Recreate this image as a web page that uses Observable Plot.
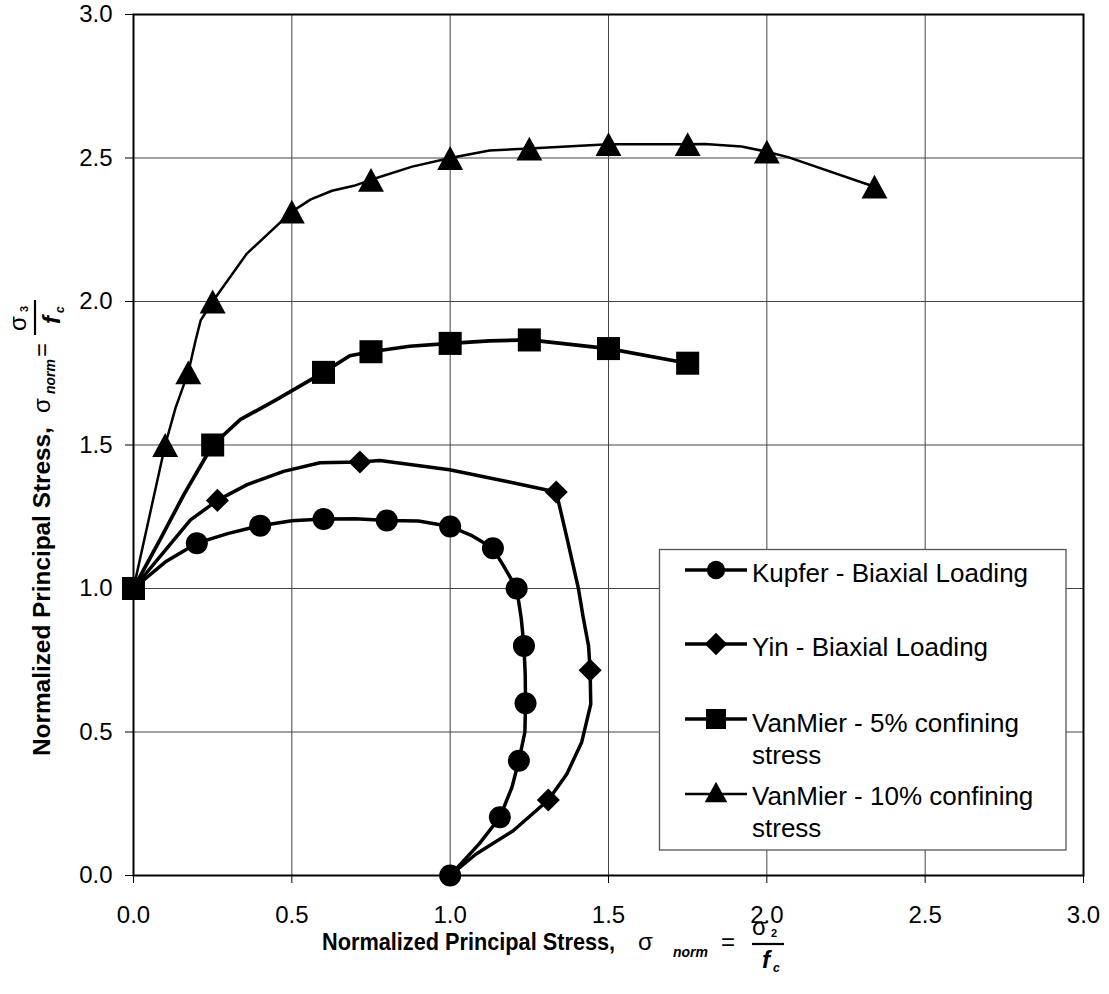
<!DOCTYPE html>
<html><head><meta charset="utf-8">
<script src="https://cdn.jsdelivr.net/npm/d3@7"></script>
<script src="https://cdn.jsdelivr.net/npm/@observablehq/plot@0.6"></script>
<style>
html,body{margin:0;padding:0;background:#fff;}
#chart{position:relative;width:1109px;height:994px;}
</style></head><body><div id="chart"></div>
<script>
// ---------- data ----------
const seriesNames = ["Kupfer - Biaxial Loading", "Yin - Biaxial Loading", "VanMier - 5% confining stress", "VanMier - 10% confining stress"];
const legendLines = [["Kupfer - Biaxial Loading"], ["Yin - Biaxial Loading"], ["VanMier - 5% confining", "stress"], ["VanMier - 10% confining", "stress"]];
const axisTicks = [0, 0.5, 1, 1.5, 2, 2.5, 3];
const gridTicks = [0.5, 1, 1.5, 2, 2.5];

// marker points
const kupferX = [0.2, 0.4, 0.6, 0.8, 1.0, 1.135, 1.21, 1.233, 1.238, 1.217, 1.157, 1.0];
const kupferY = [1.158, 1.219, 1.242, 1.237, 1.216, 1.14, 1.0, 0.8, 0.6, 0.4, 0.203, 0.0];
const yinX = [0.265, 0.715, 1.335, 1.442, 1.31];
const yinY = [1.307, 1.441, 1.336, 0.715, 0.263];
const vm5X = [0, 0.25, 0.6, 0.75, 1.0, 1.25, 1.5, 1.75];
const vm5Y = [1.0, 1.5, 1.753, 1.825, 1.854, 1.866, 1.836, 1.785];
const vm10X = [0.1, 0.173, 0.25, 0.5, 0.75, 1.0, 1.25, 1.5, 1.75, 2.0, 2.34];
const vm10Y = [1.5, 1.753, 2.0, 2.313, 2.424, 2.5, 2.533, 2.548, 2.548, 2.522, 2.4];

// curve vertices (as traced on the figure)
const kupferLineX = [0, 0.1, 0.2, 0.3, 0.4, 0.5, 0.6, 0.7, 0.8, 0.9, 1.0, 1.065, 1.135, 1.17, 1.21, 1.224, 1.233, 1.237, 1.238, 1.236, 1.217, 1.195, 1.157, 1.093, 1.0];
const kupferLineY = [1.0, 1.092, 1.158, 1.192, 1.219, 1.236, 1.242, 1.243, 1.237, 1.235, 1.216, 1.186, 1.14, 1.076, 1.0, 0.9, 0.8, 0.7, 0.6, 0.5, 0.4, 0.307, 0.203, 0.112, 0.0];
const yinLineX = [0, 0.096, 0.18, 0.265, 0.359, 0.474, 0.589, 0.715, 0.778, 0.998, 1.187, 1.335, 1.37, 1.405, 1.42, 1.437, 1.442, 1.444, 1.415, 1.368, 1.31, 1.199, 1.082, 1.0];
const yinLineY = [1.0, 1.128, 1.239, 1.307, 1.362, 1.408, 1.438, 1.441, 1.446, 1.414, 1.371, 1.336, 1.17, 1.0, 0.9, 0.8, 0.715, 0.597, 0.463, 0.353, 0.263, 0.156, 0.075, 0.0];
const vm5LineX = [0, 0.086, 0.159, 0.25, 0.338, 0.453, 0.6, 0.683, 0.75, 0.872, 1.0, 1.124, 1.25, 1.5, 1.75];
const vm5LineY = [1.0, 1.175, 1.327, 1.5, 1.589, 1.659, 1.753, 1.811, 1.825, 1.844, 1.854, 1.863, 1.866, 1.836, 1.785];
const vm10LineX = [0, 0.1, 0.133, 0.173, 0.196, 0.212, 0.25, 0.358, 0.5, 0.56, 0.627, 0.696, 0.75, 0.88, 1.0, 1.124, 1.25, 1.5, 1.75, 1.804, 1.92, 2.0, 2.067, 2.34];
const vm10LineY = [1.0, 1.5, 1.63, 1.753, 1.864, 1.934, 2.0, 2.167, 2.313, 2.356, 2.386, 2.403, 2.424, 2.47, 2.5, 2.526, 2.533, 2.548, 2.548, 2.549, 2.54, 2.522, 2.503, 2.4];

// ---------- helpers ----------
const rows = (xs, ys) => xs.map((x, i) => ({x, y: ys[i]}));
const fmt = d3.format(".1f");
const FONT = "'Liberation Sans', Arial, Helvetica, sans-serif";
// triangle centred on its bounding box
const triSymbol = {
  draw(ctx, size) {
    const r = Math.sqrt(size / Math.PI);
    const w = 1.2 * r, h = 1.1 * r;
    ctx.moveTo(0, -h); ctx.lineTo(w, h); ctx.lineTo(-w, h); ctx.closePath();
  }
};

const lineSpecs = [
  {xs: kupferLineX, ys: kupferLineY, sw: 3.5},
  {xs: yinLineX, ys: yinLineY, sw: 3.5},
  {xs: vm5LineX, ys: vm5LineY, sw: 3.7},
  {xs: vm10LineX, ys: vm10LineY, sw: 2.5}
];
// draw order: triangles, diamonds, circles, squares
const dotSpecs = [
  {xs: vm10X, ys: vm10Y, symbol: triSymbol, r: 10.8},
  {xs: yinX, ys: yinY, symbol: "diamond2", r: 10.4},
  {xs: kupferX, ys: kupferY, symbol: "circle", r: 11},
  {xs: vm5X, ys: vm5Y, symbol: "square", r: 13}
];

const svg = Plot.plot({
  width: 1109,
  height: 994,
  marginLeft: 133,
  marginRight: 26,
  marginTop: 14,
  marginBottom: 119,
  style: {fontFamily: FONT, fontSize: "24px", background: "#fff", color: "#000", overflow: "visible"},
  x: {domain: [0, 3]},
  y: {domain: [0, 3]},
  marks: [
    Plot.gridX({ticks: gridTicks, stroke: "#444", strokeOpacity: 1, strokeWidth: 1}),
    Plot.gridY({ticks: gridTicks, stroke: "#444", strokeOpacity: 1, strokeWidth: 1}),
    Plot.axisX({ticks: axisTicks, tickSize: 8, tickPadding: 22, tickFormat: fmt, label: null, fontSize: 24, stroke: "#000"}),
    Plot.axisY({ticks: axisTicks, tickSize: 8, tickPadding: 13, tickFormat: fmt, label: null, fontSize: 24, stroke: "#000"}),
    Plot.frame({stroke: "#000", strokeWidth: 2}),
    ...lineSpecs.map(s => Plot.line(rows(s.xs, s.ys), {x: "x", y: "y", stroke: "#000", strokeWidth: s.sw, curve: "linear", strokeLinejoin: "round"})),
    ...dotSpecs.map(s => Plot.dot(rows(s.xs, s.ys), {x: "x", y: "y", symbol: s.symbol, r: s.r, fill: "#000", stroke: "none"}))
  ]
});
document.getElementById("chart").appendChild(svg);

const root = d3.select(svg);

// ---------- legend ----------
const lg = root.append("g").attr("font-family", FONT).attr("font-size", 26).attr("text-anchor", "start");
lg.append("rect").attr("x", 659.5).attr("y", 549.5).attr("width", 406.5).attr("height", 300.5)
  .attr("fill", "#fff").attr("stroke", "#555").attr("stroke-width", 1.3);
const legSymbols = [
  {type: d3.symbolCircle, size: Math.PI * 9.2 * 9.2},
  {type: d3.symbolDiamond2, size: Math.pow(11.2 / 0.62625, 2)},
  {type: d3.symbolSquare, size: 20 * 20},
  {type: triSymbol, size: Math.PI * 9.4 * 9.4}
];
const legSampleY = [570, 644, 719, 794];
const legTextY = [582, 656, 732, 805];
const legLineW = [3.5, 3.5, 3.7, 2.3];
legendLines.forEach((lines, i) => {
  lg.append("line").attr("x1", 685).attr("x2", 747).attr("y1", legSampleY[i]).attr("y2", legSampleY[i])
    .attr("stroke", "#000").attr("stroke-width", legLineW[i]);
  lg.append("path").attr("transform", `translate(716,${legSampleY[i] - (i === 3 ? 2 : 0)})`)
    .attr("d", d3.symbol(legSymbols[i].type, legSymbols[i].size)()).attr("fill", "#000");
  const t = lg.append("text").attr("x", 752).attr("y", legTextY[i]).attr("fill", "#000");
  lines.forEach((ln, j) => t.append("tspan").attr("x", 752).attr("dy", j === 0 ? 0 : 31.5).text(ln));
});

// ---------- axis titles ----------
function mathTitle(g, p) {
  g.attr("font-family", FONT).attr("fill", "#000").attr("text-anchor", "start");
  g.append("text").attr("x", 0).attr("y", 0).attr("font-weight", "bold").attr("font-size", 24)
    .attr("transform", `scale(${p.sx},1)`).text("Normalized Principal Stress,");
  g.append("text").attr("x", p.sig).attr("y", 0).attr("font-size", 24).text("σ");
  g.append("text").attr("x", p.norm).attr("y", p.normV).attr("font-size", 14).attr("font-style", "italic").attr("font-weight", "bold").text("norm");
  g.append("text").attr("x", p.eq).attr("y", 0).attr("font-size", 24).text("=");
  g.append("text").attr("x", p.num).attr("y", p.numV).attr("font-size", 24).text("σ");
  g.append("text").attr("x", p.num + 19).attr("y", p.numV + 2).attr("font-size", 11).attr("font-weight", "bold").text(p.sub);
  g.append("line").attr("x1", p.bar0).attr("x2", p.bar1).attr("y1", p.barV).attr("y2", p.barV).attr("stroke", "#000").attr("stroke-width", 2.2);
  g.append("text").attr("x", p.den).attr("y", p.denV).attr("font-size", 24).attr("font-style", "italic").attr("font-weight", "bold").text("f");
  g.append("text").attr("x", p.den + 11).attr("y", p.denV + 4).attr("font-size", 12).attr("font-style", "italic").attr("font-weight", "bold").text("c");
}
mathTitle(root.append("g").attr("transform", "translate(322,950)"),
  {sx: 0.905, sig: 316, norm: 351, normV: 7, eq: 399, num: 430, numV: -15, sub: "2", bar0: 430, bar1: 462, barV: -6, den: 440, denV: 18});
mathTitle(root.append("g").attr("transform", "translate(50,756) rotate(-90)"),
  {sx: 1.015, sig: 343, norm: 362, normV: 5, eq: 399, num: 425, numV: -24, sub: "3", bar0: 421, bar1: 456, barV: -15, den: 432, denV: 10});
</script></body></html>
